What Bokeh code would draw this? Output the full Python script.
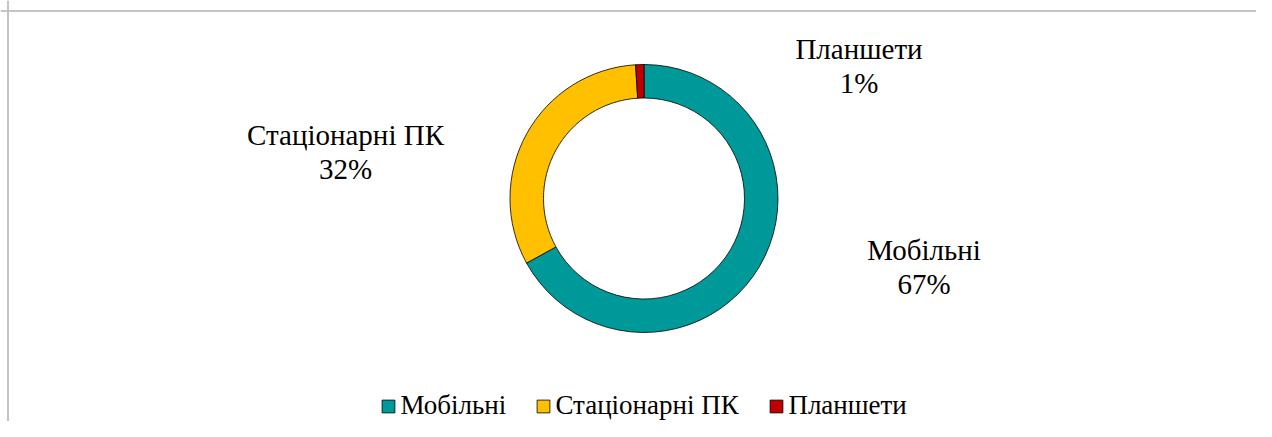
import math
from bokeh.plotting import figure
from bokeh.models import Range1d, Span, ColumnDataSource, Legend, LegendItem
from bokeh.embed import file_html
from bokeh.resources import INLINE
from bokeh.core.properties import value

# ---- data ----
categories = ["Мобільні", "Стаціонарні ПК", "Планшети"]
shares = [67, 32, 1]
colors = ["#009999", "#FFC000", "#C00000"]

# ---- layout (pixel anchors) ----
label_px = [923.5, 345, 858.5]
label_py = [249, 134, 48]
legend_px = [380.4, 535.4, 768.4]

W, H = 1256, 421
FONT = "Liberation Serif"


def dx(px):
    return px


def dy(py):
    return H - py


p = figure(width=W, height=H, output_backend="svg", toolbar_location=None,
           x_range=Range1d(0, W), y_range=Range1d(0, H), min_border=0)
p.axis.visible = False
p.grid.visible = False
p.outline_line_color = None
p.background_fill_color = "white"
p.border_fill_color = "white"

total = sum(shares)
starts, ends = [], []
acc = 0
for s in shares:
    starts.append(math.pi / 2 - 2 * math.pi * acc / total)
    acc += s
    ends.append(math.pi / 2 - 2 * math.pi * acc / total)

cx, cy = dx(643.5), dy(198)
src = ColumnDataSource(dict(
    name=categories, start=starts, end=ends, color=colors,
    x=[cx] * len(shares), y=[cy] * len(shares),
))
r = p.annular_wedge(x="x", y="y", inner_radius=100.5, outer_radius=134,
                    start_angle="start", end_angle="end", direction="clock",
                    fill_color="color", line_color="black", line_width=0.8,
                    source=src)

lab = ColumnDataSource(dict(
    x=[dx(v) for v in label_px],
    y=[dy(v) for v in label_py],
    y2=[dy(v) - 34 for v in label_py],
    name=categories,
    pct=[f"{v}%" for v in shares],
))
for col in ("name", "pct"):
    p.text(x="x", y="y" if col == "name" else "y2", text=col, source=lab,
           text_align="center", text_baseline="alphabetic",
           text_font=value(FONT), text_font_size="29px", text_color="black")

# chart border (only top/left visible in the window)
p.add_layout(Span(location=dx(7.5), dimension="height", line_color="#c4c4c4", line_width=2))
p.add_layout(Span(location=dy(10.5), dimension="width", line_color="#c4c4c4", line_width=2))

for i, cat in enumerate(categories):
    leg = Legend(items=[LegendItem(label=cat, renderers=[r], index=i)],
                 orientation="horizontal", location=(legend_px[i], 0))
    leg.background_fill_alpha = 0
    leg.border_line_color = None
    leg.padding = 0
    leg.margin = 0
    leg.glyph_width = 16
    leg.glyph_height = 16
    leg.label_standoff = 4
    leg.label_text_font = FONT
    leg.label_text_font_size = "27px"
    leg.label_text_color = "black"
    p.add_layout(leg, "center")

open("out.html", "w").write(file_html(p, INLINE))
